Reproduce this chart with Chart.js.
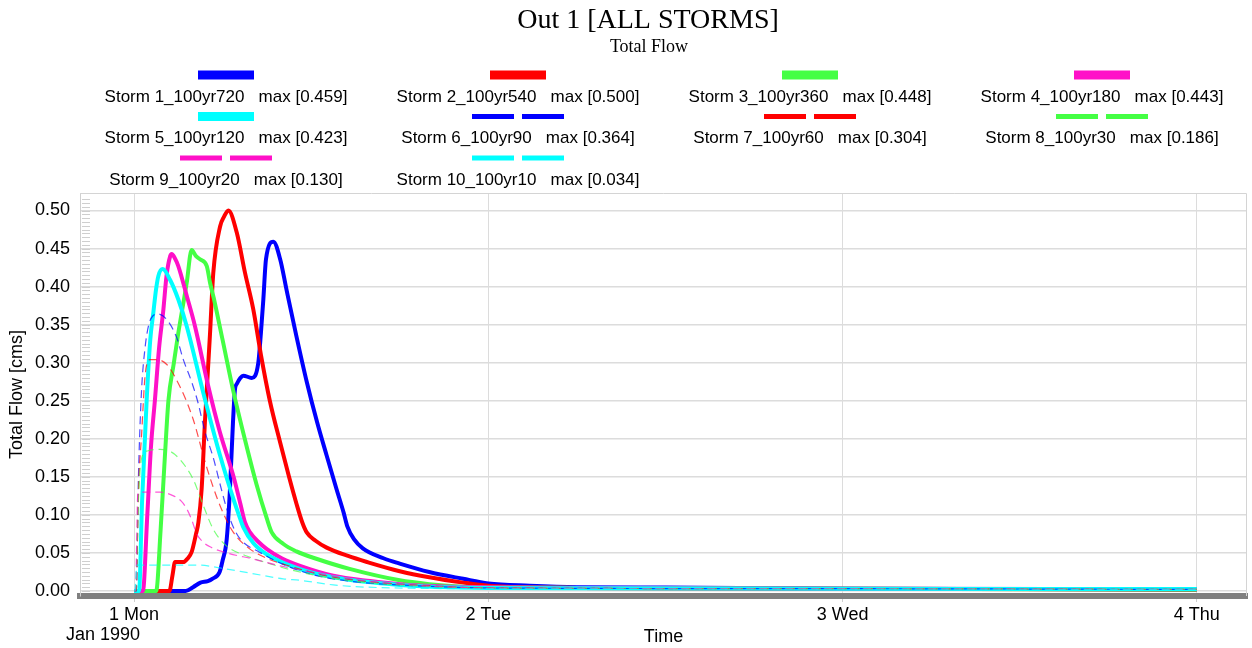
<!DOCTYPE html>
<html lang="en">
<head>
  <meta charset="UTF-8">
  <title>Out 1 [ALL STORMS]</title>
  <script src="https://cdn.jsdelivr.net/npm/chart.js"></script>
  <style>
    body { margin: 0; background: #fff; }
  </style>
</head>
<body>
  <canvas id="flowChart" width="1252" height="648"></canvas>

  <script>
    // hours after 1 Jan 1990 00:00, flow in cms
    const dayTicks = [0, 24, 48, 72];
    const dayLabels = ['1 Mon', '2 Tue', '3 Wed', '4 Thu'];
    const flowTicks = [0, 0.05, 0.10, 0.15, 0.20, 0.25, 0.30, 0.35, 0.40, 0.45, 0.50];

    const stormNames = ['Storm 1_100yr720', 'Storm 2_100yr540', 'Storm 3_100yr360', 'Storm 4_100yr180',
      'Storm 5_100yr120', 'Storm 6_100yr90', 'Storm 7_100yr60', 'Storm 8_100yr30',
      'Storm 9_100yr20', 'Storm 10_100yr10'];
    const stormMax = ['0.459', '0.500', '0.448', '0.443', '0.423', '0.364', '0.304', '0.186', '0.130', '0.034'];
    const stormColors = ['#0000ff', '#ff0000', '#44ff44', '#ff10c8', '#00ffff',
      '#0000ff', '#ff0000', '#44ff44', '#ff10c8', '#00ffff'];

    const storm1 = [[0,0],[3.5,0],[4.0,0.005],[4.5,0.011],[5.0,0.013],[5.3,0.016],[5.8,0.025],[6.0,0.04],[6.28,0.068],[6.5,0.134],[6.7,0.22],[6.84,0.265],[6.96,0.272],[7.2,0.28],[7.4,0.283],[7.97,0.28],[8.42,0.3],[8.6,0.34],[8.76,0.383],[8.94,0.436],[9.44,0.459],[9.9,0.436],[10.34,0.395],[11.0,0.335],[11.7,0.275],[12.4,0.222],[13.05,0.178],[13.7,0.135],[14.2,0.103],[14.45,0.085],[14.9,0.068],[15.5,0.056],[16.9,0.043],[18,0.036],[20,0.025],[22.3,0.016],[24,0.01],[26.8,0.007],[30,0.005],[36,0.0045],[41,0.004],[48,0.003],[60,0.0025],[72,0.002]];
    const storm2 = [[0,0],[2.4,0],[2.6,0.02],[2.78,0.038],[3.34,0.038],[3.6,0.042],[3.9,0.051],[4.2,0.075],[4.36,0.09],[4.58,0.134],[4.8,0.221],[4.93,0.265],[5.15,0.339],[5.37,0.418],[5.83,0.479],[6.1,0.492],[6.39,0.5],[6.96,0.471],[7.52,0.418],[8.08,0.37],[8.6,0.31],[9.2,0.25],[9.9,0.195],[10.5,0.15],[11.0,0.115],[11.4,0.09],[11.7,0.077],[12.3,0.066],[13.05,0.057],[14.5,0.046],[15.8,0.038],[18,0.026],[20,0.018],[22.3,0.011],[24,0.007],[30,0.004],[48,0.003],[72,0.002]];
    const storm3 = [[0,0],[1.5,0],[1.8,0.08],[2.1,0.18],[2.33,0.25],[2.7,0.3],[3.0,0.339],[3.57,0.405],[3.9,0.448],[4.2,0.44],[4.47,0.436],[4.93,0.427],[5.15,0.405],[5.4,0.385],[6.0,0.33],[6.7,0.265],[7.5,0.2],[8.3,0.14],[9.0,0.095],[9.33,0.077],[10.1,0.062],[11,0.052],[12.4,0.042],[14.6,0.029],[18,0.014],[20,0.009],[22,0.006],[24,0.005],[30,0.004],[48,0.003],[72,0.002]];
    const storm4 = [[0,0],[0.6,0],[0.9,0.1],[1.15,0.19],[1.42,0.252],[1.7,0.32],[1.99,0.37],[2.2,0.414],[2.45,0.44],[2.55,0.443],[2.75,0.438],[3.0,0.427],[3.57,0.388],[4.13,0.348],[5.03,0.269],[5.8,0.21],[6.73,0.151],[7.2,0.115],[7.52,0.09],[7.86,0.077],[8.4,0.065],[9.0,0.055],[10,0.043],[11.25,0.033],[13.5,0.02],[16,0.013],[18,0.009],[21,0.006],[24,0.005],[30,0.004],[48,0.003],[72,0.0025]];
    const storm5 = [[0,0],[0.34,0],[0.55,0.12],[0.86,0.252],[1.1,0.33],[1.31,0.366],[1.49,0.396],[1.65,0.414],[1.94,0.423],[2.44,0.409],[3.0,0.383],[3.57,0.348],[4.7,0.26],[5.83,0.178],[6.73,0.121],[7.1,0.1],[7.4,0.084],[8.08,0.063],[9.0,0.048],[11.2,0.029],[13.5,0.018],[18,0.008],[24,0.004],[30,0.0035],[48,0.003],[72,0.0025]];
    const storm6 = [[0,0],[0.15,0],[0.3,0.15],[0.5,0.26],[0.75,0.32],[1.0,0.35],[1.3,0.362],[1.6,0.364],[2.2,0.357],[2.89,0.333],[3.34,0.304],[3.9,0.275],[4.3,0.25],[4.8,0.21],[5.37,0.175],[5.9,0.135],[6.28,0.108],[6.7,0.085],[7.2,0.068],[8.5,0.051],[10,0.036],[12,0.022],[15,0.012],[18,0.008],[24,0.004],[48,0.003],[72,0.002]];
    const storm7 = [[0,0],[0.15,0],[0.3,0.13],[0.52,0.208],[0.75,0.283],[1.08,0.304],[1.5,0.304],[2.2,0.298],[3.1,0.269],[4.0,0.226],[4.9,0.164],[5.83,0.112],[6.73,0.077],[7.86,0.055],[9,0.043],[11,0.03],[13,0.02],[16,0.012],[20,0.007],[24,0.004],[48,0.003],[72,0.002]];
    const storm8 = [[0,0],[0.12,0],[0.3,0.12],[0.52,0.175],[0.9,0.184],[1.76,0.186],[2.5,0.183],[3.1,0.173],[4.0,0.147],[4.7,0.112],[5.37,0.081],[6.28,0.059],[7.63,0.046],[9,0.037],[11,0.026],[14,0.015],[18,0.008],[24,0.004],[48,0.003],[72,0.002]];
    const storm9 = [[0,0],[0.1,0],[0.25,0.125],[0.35,0.13],[1.76,0.13],[2.67,0.125],[3.2,0.118],[3.57,0.108],[3.9,0.094],[4.25,0.075],[4.7,0.064],[5.15,0.058],[6.28,0.05],[8.08,0.042],[9.9,0.033],[12,0.025],[15,0.015],[18,0.009],[24,0.004],[48,0.003],[72,0.002]];
    const storm10 = [[0,0],[0.05,0],[0.2,0.034],[1,0.034],[4.47,0.034],[5.6,0.031],[8,0.023],[10.1,0.016],[11.25,0.014],[13.5,0.008],[15.8,0.005],[24,0.003],[48,0.0025],[72,0.002]];

    const stormSeries = [storm1, storm2, storm3, storm4, storm5, storm6, storm7, storm8, storm9, storm10];

    const SANS = '"Liberation Sans", Arial, sans-serif';
    const SERIF = '"Liberation Serif", "Times New Roman", serif';
    Chart.defaults.color = '#000';

    function fade(hex, a) {
      const n = parseInt(hex.slice(1), 16);
      return 'rgba(' + (n >> 16) + ',' + ((n >> 8) & 255) + ',' + (n & 255) + ',' + a + ')';
    }

    const datasets = stormSeries.map((pts, i) => {
      const dashed = i >= 5;
      return {
        label: stormNames[i],
        data: pts.map(p => ({ x: p[0], y: p[1] })),
        borderColor: dashed ? fade(stormColors[i], 0.7) : stormColors[i],
        borderWidth: dashed ? 1.2 : 4,
        borderDash: dashed ? [8, 5] : [],
        pointRadius: 0,
        fill: false,
        tension: 0,
        cubicInterpolationMode: 'monotone',
        order: 10 - i
      };
    });

    // frame, minor ticks on the flow axis
    const framePlugin = {
      id: 'frame',
      beforeDatasetsDraw(chart) {
        const { ctx, chartArea: a, scales } = chart;
        ctx.save();
        ctx.strokeStyle = '#d4d4d4';
        ctx.lineWidth = 1;
        ctx.beginPath();
        ctx.moveTo(a.left, a.top + 0.5);
        ctx.lineTo(a.right - 0.5, a.top + 0.5);
        ctx.lineTo(a.right - 0.5, a.bottom);
        ctx.stroke();
        ctx.strokeStyle = '#cfcfcf';
        ctx.beginPath();
        for (let v = 0; v <= 0.52; v += 0.005) {
          const y = Math.round(scales.y.getPixelForValue(v)) + 0.5;
          ctx.moveTo(a.left + 2, y);
          ctx.lineTo(a.left + 10, y);
        }
        ctx.stroke();
        ctx.restore();
      }
    };

    // title, subtitle, legend block and date caption
    const headerPlugin = {
      id: 'header',
      afterDraw(chart) {
        const ctx = chart.ctx;
        ctx.save();
        ctx.fillStyle = '#000';
        ctx.textAlign = 'center';
        ctx.textBaseline = 'middle';
        ctx.font = '28px ' + SERIF;
        ctx.fillText('Out 1 [ALL STORMS]', 648, 21);
        ctx.font = '18px ' + SERIF;
        ctx.fillText('Total Flow', 649, 47);

        ctx.font = '17px ' + SANS;
        stormNames.forEach((name, i) => {
          const cx = 226 + (i % 4) * 292;
          const row = Math.floor(i / 4);
          const ly = 75 + row * 41.5;
          ctx.fillStyle = stormColors[i];
          if (i < 5) {
            ctx.fillRect(cx - 28, ly - 4.5, 56, 9);
          } else {
            ctx.fillRect(cx - 46, ly - 2.5, 42, 5);
            ctx.fillRect(cx + 4, ly - 2.5, 42, 5);
          }
          ctx.fillStyle = '#000';
          ctx.fillText(name + '   max [' + stormMax[i] + ']', cx, ly + 22);
        });

        ctx.font = '18px ' + SANS;
        ctx.fillText('Jan 1990', chart.scales.x.getPixelForValue(0) - 31, 635);
        ctx.restore();
      }
    };

    const ctx = document.getElementById('flowChart').getContext('2d');
    new Chart(ctx, {
      type: 'line',
      data: { datasets: datasets },
      options: {
        responsive: false,
        animation: false,
        layout: { padding: { top: 193, right: 5, left: 0, bottom: 0 } },
        plugins: {
          legend: { display: false },
          tooltip: { enabled: false }
        },
        scales: {
          x: {
            type: 'linear',
            min: -3.66,
            max: 75.4,
            afterBuildTicks: s => { s.ticks = dayTicks.map(v => ({ value: v })); },
            afterFit: s => { s.height = 52; },
            ticks: {
              font: { family: SANS, size: 18 },
              padding: 2,
              maxRotation: 0,
              callback: (v, i) => dayLabels[i]
            },
            grid: { color: '#dcdcdc', lineWidth: 1, tickLength: 6, tickColor: '#cfcfcf' },
            border: { color: '#808080', width: 6 },
            title: {
              display: true,
              text: 'Time',
              font: { family: SANS, size: 18 },
              padding: { top: 0, bottom: 0 }
            }
          },
          y: {
            min: -0.0066,
            max: 0.523,
            afterBuildTicks: s => { s.ticks = flowTicks.map(v => ({ value: v })); },
            afterFit: s => { s.width = 80; },
            ticks: {
              font: { family: SANS, size: 18 },
              padding: 10,
              callback: v => v.toFixed(2)
            },
            grid: { color: '#dcdcdc', lineWidth: 1.5, drawTicks: false },
            border: { color: '#d0d0d0', width: 1 },
            title: {
              display: true,
              text: 'Total Flow [cms]',
              font: { family: SANS, size: 18 },
              padding: { top: 6, bottom: 4 }
            }
          }
        }
      },
      plugins: [framePlugin, headerPlugin]
    });
  </script>
</body>
</html>
